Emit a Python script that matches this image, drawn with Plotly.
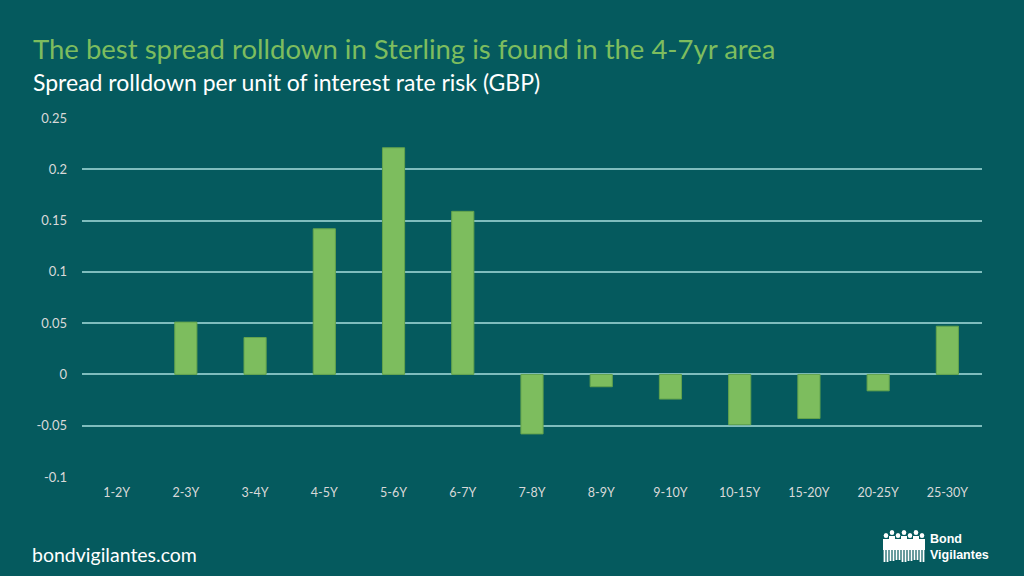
import plotly.graph_objects as go

categories = ["1-2Y", "2-3Y", "3-4Y", "4-5Y", "5-6Y", "6-7Y", "7-8Y", "8-9Y",
              "9-10Y", "10-15Y", "15-20Y", "20-25Y", "25-30Y"]
values = [0.0, 0.051, 0.036, 0.142, 0.221, 0.159, -0.058, -0.012,
          -0.024, -0.049, -0.043, -0.016, 0.047]
tick_vals = [-0.1, -0.05, 0, 0.05, 0.1, 0.15, 0.2, 0.25]
tick_text = ["-0.1", "-0.05", "0", "0.05", "0.1", "0.15", "0.2", "0.25"]

BG = "#055A5E"
BAR = "#7DBD5E"
GRID = "#7FBDBD"
FONT = "Lato"

L, R, T, B = 82, 42, 118, 99
PW, PH = 1024 - L - R, 576 - T - B


def px(x):
    return (x - L) / PW


def py(y):
    return (576 - B - y) / PH


fig = go.Figure()
fig.add_trace(go.Bar(
    x=categories, y=values,
    marker=dict(color=BAR,
                line=dict(color="#63A34D", width=[0 if v == 0 else 1 for v in values])),
    hoverinfo="x+y",
))

fig.update_layout(
    width=1024, height=576,
    paper_bgcolor=BG, plot_bgcolor=BG,
    margin=dict(l=L, r=R, t=T, b=B),
    bargap=0.68,
    showlegend=False,
    font=dict(family=FONT, color="#D9D9D9", size=13),
    xaxis=dict(showgrid=False, zeroline=False, showline=False, ticks="",
               ticklabelstandoff=6,
               tickfont=dict(size=12.5, color="#D9D9D9", family=FONT)),
    yaxis=dict(range=[-0.1, 0.25], tickvals=tick_vals, ticktext=tick_text,
               showgrid=True, gridcolor=GRID, gridwidth=1.5,
               zeroline=True, zerolinecolor=GRID, zerolinewidth=1.5,
               showline=False, ticks="", ticklabelstandoff=14,
               tickfont=dict(size=13, color="#D9D9D9", family=FONT)),
)

fig.add_annotation(text="The best spread rolldown in Sterling is found in the 4-7yr area",
                   xref="paper", yref="paper", x=px(31), y=py(48),
                   xanchor="left", yanchor="middle", showarrow=False,
                   font=dict(size=27.5, color="#7DBD5E", family=FONT))
fig.add_annotation(text="Spread rolldown per unit of interest rate risk (GBP)",
                   xref="paper", yref="paper", x=px(31), y=py(82),
                   xanchor="left", yanchor="middle", showarrow=False,
                   font=dict(size=23, color="#FFFFFF", family=FONT))
fig.add_annotation(text="bondvigilantes.com",
                   xref="paper", yref="paper", x=px(30), y=py(554),
                   xanchor="left", yanchor="middle", showarrow=False,
                   font=dict(size=19.5, color="#FFFFFF", family=FONT))
fig.add_annotation(text="<b>Bond</b><br><b>Vigilantes</b>", align="left",
                   xref="paper", yref="paper", x=px(928), y=py(547),
                   xanchor="left", yanchor="middle", showarrow=False,
                   font=dict(size=12.5, color="#FFFFFF", family="Liberation Sans"))

# simple logo silhouettes
for i, cx in enumerate([886, 892, 898, 904, 910, 916, 922]):
    top = 533 if i % 2 == 0 else 530
    bottom = 562 - (i % 3)
    fig.add_shape(type="circle", xref="paper", yref="paper",
                  x0=px(cx - 2.3), x1=px(cx + 2.3),
                  y0=py(top + 5), y1=py(top),
                  fillcolor="#FFFFFF", line_width=0)
    fig.add_shape(type="rect", xref="paper", yref="paper",
                  x0=px(cx - 3), x1=px(cx + 3),
                  y0=py(550), y1=py(top + 6),
                  fillcolor="#FFFFFF", line_width=0)
    for dx in (-2.4, 0.6):
        fig.add_shape(type="rect", xref="paper", yref="paper",
                      x0=px(cx + dx), x1=px(cx + dx + 1.8),
                      y0=py(bottom), y1=py(550),
                      fillcolor="#FFFFFF", line_width=0)

fig.write_html("out.html", config={"displayModeBar": False},
               post_script="document.body.style.margin='0';document.body.style.overflow='hidden';")
